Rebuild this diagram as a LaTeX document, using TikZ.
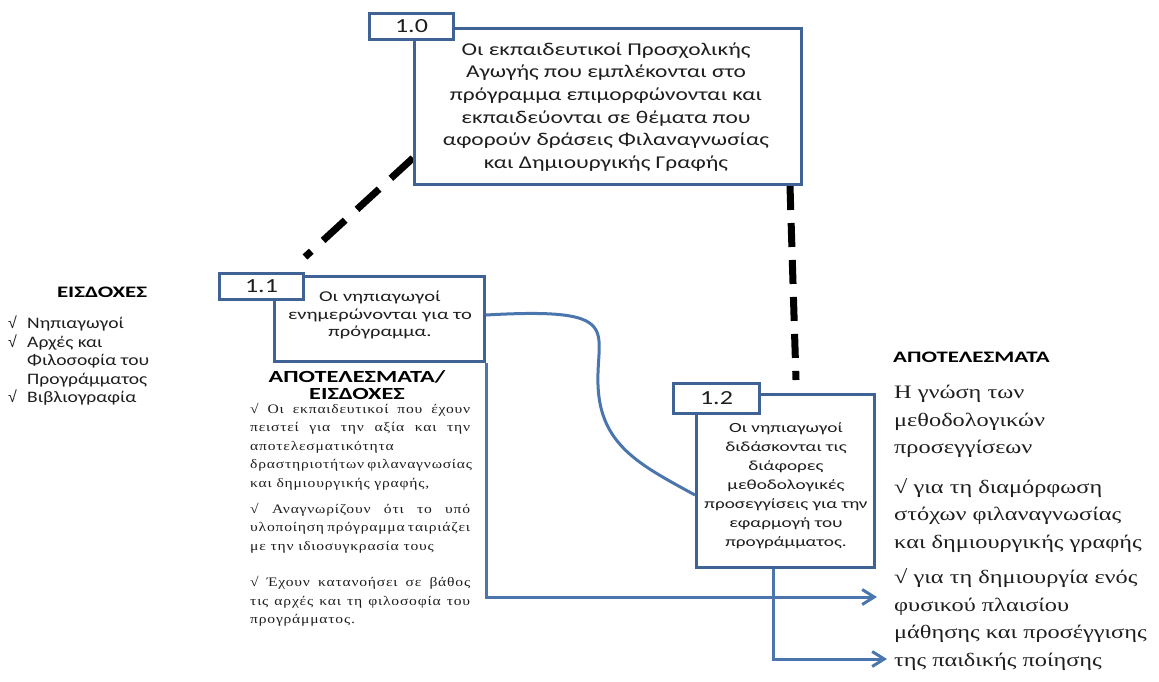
\documentclass[tikz,border=0pt]{standalone}
\usepackage{fontspec}
\setmainfont{Carlito}
\newfontfamily\fA{Carlito}[FakeStretch=1.3]
\newfontfamily\fB{Carlito}[FakeStretch=1.37]
\newfontfamily\fD{Carlito}[FakeStretch=1.22]
\newfontfamily\fH{Carlito Bold}[FakeStretch=1.43]
\newfontfamily\tmsA{Liberation Serif}[FakeStretch=1.28]
\newfontfamily\tmsB{Liberation Serif}[FakeStretch=1.2,LetterSpace=6]
\newfontfamily\chkf{Liberation Sans}
\usetikzlibrary{arrows.meta,calc,backgrounds}
\definecolor{boxblue}{RGB}{62,99,148}
\definecolor{lineblue}{RGB}{74,118,173}
\definecolor{txt}{RGB}{30,30,30}
\newcommand{\ck}{\makebox[19pt][l]{\chkf √}}
\newcommand{\nock}{\makebox[19pt][l]{}}
\newcommand{\full}[1]{\makebox[220pt][s]{#1}}
\begin{document}
\begin{tikzpicture}[x=1pt,y=-1pt,
  mainbox/.style={draw=boxblue, line width=3pt, fill=white, inner sep=0pt, anchor=north west},
  labelbox/.style={draw=boxblue, line width=3pt, fill=white, inner sep=0pt, anchor=north west,
     font=\fA\fontsize{20}{20}\selectfont, text=txt},
  boxtext/.style={align=center, inner sep=0pt, text=txt},
  head/.style={inner sep=0pt, text=black},
  dashline/.style={line width=7pt, black},
  conn/.style={draw=lineblue, line width=3pt},
  tip/.style={-{Straight Barb[length=12pt,width=15pt,line width=3pt]}}
]
\useasboundingbox (0,0) rectangle (1159,681);

% boxes
\node[mainbox, minimum width=387pt, minimum height=156pt] (b10) at (413,27) {};
\node[labelbox, minimum width=84pt, minimum height=26pt] (l10) at (368,12) {\raisebox{-3pt}{1.0}};
\node[mainbox, minimum width=210pt, minimum height=85pt] (b11) at (273,275) {};
\node[labelbox, minimum width=84pt, minimum height=26pt] (l11) at (218,272) {\raisebox{-3pt}{1.1}};
\node[mainbox, minimum width=178pt, minimum height=173pt] (b12) at (695,393) {};
\node[labelbox, minimum width=86pt, minimum height=30pt] (l12) at (672,382) {\raisebox{-4pt}{1.2}};

% box texts
\node[boxtext, font=\fA\fontsize{18}{22.6}\selectfont] (t10) at (606,107)
 {Οι εκπαιδευτικοί Προσχολικής\\Αγωγής που εμπλέκονται στο\\πρόγραμμα επιμορφώνονται και\\εκπαιδεύονται σε θέματα που\\αφορούν δράσεις Φιλαναγνωσίας\\και Δημιουργικής Γραφής};
\node[boxtext, font=\fB\fontsize{15}{17.5}\selectfont] (t11) at (380,315)
 {Οι νηπιαγωγοί\\ενημερώνονται για το\\πρόγραμμα.};
\node[boxtext, font=\fB\fontsize{14}{19}\selectfont] (t12) at (786,486)
 {Οι νηπιαγωγοί\\διδάσκονται τις\\διάφορες\\μεθοδολογικές\\προσεγγίσεις για την\\εφαρμογή του\\προγράμματος.};

% left inputs
\node[head, font=\fH\fontsize{16}{16}\selectfont] (h1) at (102,292) {ΕΙΣΔΟΧΕΣ};
\node[inner sep=0pt, anchor=north west, align=left, text=txt, font=\fD\fontsize{16}{18.4}\selectfont] (in1) at (8,316)
 {\ck Νηπιαγωγοί\\\ck Αρχές και\\\nock Φιλοσοφία του\\\nock Προγράμματος\\\ck Βιβλιογραφία};

% middle results / inputs
\node[head, align=center, font=\fH\fontsize{17}{16.5}\selectfont] (h2) at (357,385) {ΑΠΟΤΕΛΕΣΜΑΤΑ/\\ΕΙΣΔΟΧΕΣ};
\node[inner sep=0pt, anchor=north west, align=left, text=txt, font=\tmsB\fontsize{13}{18.5}\selectfont] (p1) at (250,403)
 {\full{√ Οι εκπαιδευτικοί που έχουν}\\
  \full{πειστεί για την αξία και την}\\
  αποτελεσματικότητα\\
  \full{δραστηριοτήτων φιλαναγνωσίας}\\
  και δημιουργικής γραφής,\\[7.5pt]
  \full{√ Αναγνωρίζουν ότι το υπό}\\
  \full{υλοποίηση πρόγραμμα ταιριάζει}\\
  με την ιδιοσυγκρασία τους\\[18pt]
  \full{√ Έχουν κατανοήσει σε βάθος}\\
  \full{τις αρχές και τη φιλοσοφία του}\\
  προγράμματος.};

% right results
\node[head, anchor=west, font=\fH\fontsize{16}{16}\selectfont] (h3) at (893,357) {ΑΠΟΤΕΛΕΣΜΑΤΑ};
\node[inner sep=0pt, anchor=north west, align=left, text=txt, font=\tmsA\fontsize{19}{27.5}\selectfont] (r1) at (894,385)
 {Η γνώση των\\μεθοδολογικών\\προσεγγίσεων\\[12pt]
  √ για τη διαμόρφωση\\στόχων φιλαναγνωσίας\\και δημιουργικής γραφής\\[8pt]
  √ για τη δημιουργία ενός\\φυσικού πλαισίου\\μάθησης και προσέγγισης\\της παιδικής ποίησης};

\coordinate (tip1) at (877,597);
\coordinate (tip2) at (887,659);

\begin{scope}[on background layer]
\draw[dashline, dash pattern=on 30pt off 16pt] ([yshift=28pt]b10.south west) -- ([yshift=15pt]l11.north east);
\draw[dashline, dash pattern=on 24pt off 13pt] ([xshift=-13pt]b10.south east) -- ([xshift=35pt,yshift=2pt]l12.north east);
\end{scope}

\draw[conn] ([yshift=4pt]b11.east) .. controls (625,307) and (596,330) .. (598,385)
   .. controls (600,445) and (640,465) .. ([yshift=-14pt]b12.west);
\draw[conn, tip] (b11.south east) |- (tip1);
\draw[conn, tip] ([xshift=-12pt]b12.south) |- (tip2);
\end{tikzpicture}
\end{document}
